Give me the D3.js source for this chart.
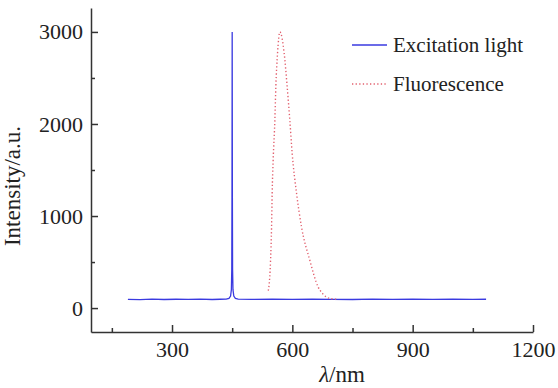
<!DOCTYPE html>
<html>
<head>
<meta charset="utf-8">
<script src="https://cdn.jsdelivr.net/npm/d3@7"></script>
<style>
  body { margin: 0; background: #fff; }
</style>
</head>
<body>
<div id="app"></div>
<script>
// excitation light (blue, solid)
const excNm = [190, 220, 250, 280, 310, 340, 370, 400, 420, 435, 442, 446, 448, 449, 449.5, 450, 450.5, 451, 452, 454, 458, 465, 500, 550, 600, 650, 700, 750, 800, 850, 900, 950, 1000, 1050, 1083];
const excVal = [95, 92, 97, 93, 96, 94, 97, 93, 96, 98, 105, 130, 200, 420, 1200, 3000, 1200, 420, 200, 130, 105, 98, 95, 96, 94, 97, 95, 93, 97, 95, 96, 94, 97, 95, 96];

// fluorescence (red, dotted)
const fluNm = [540, 541.5, 545.7, 548.2, 549.7, 552.2, 556.4, 558.9, 563.1, 569, 579.6, 587, 593.7, 599.5, 610.4, 622.9, 643.5, 664.2, 675, 685, 700, 710];
const fluVal = [190, 230, 520, 880, 1250, 1610, 2040, 2410, 2770, 3000, 2770, 2410, 2040, 1685, 1250, 880, 520, 230, 160, 120, 100, 97];

const xTicks = [300, 600, 900, 1200];
const xMinor = [150, 450, 750, 1050];
const yTicks = [0, 1000, 2000, 3000];
const yMinor = [500, 1500, 2500];

const seriesNames = ["Excitation light", "Fluorescence"];

const serif = '"Liberation Serif", "Times New Roman", serif';

const chart = () => {
  const width = 558;
  const height = 388;

  const x = d3.scaleLinear().domain([98, 1200]).range([91, 533]);
  const y = d3.scaleLinear().domain([-260, 3260]).range([332, 8]);

  const svg = d3.create("svg").attr("width", width).attr("height", height);

  // axes
  svg.append("g")
    .attr("transform", `translate(0,${y.range()[0]})`)
    .call(d3.axisBottom(x).tickValues(xTicks).tickFormat(d3.format("d"))
      .tickSizeInner(-7).tickSizeOuter(0).tickPadding(9));
  svg.append("g")
    .attr("transform", `translate(0,${y.range()[0]})`)
    .call(d3.axisBottom(x).tickValues(xMinor).tickSizeInner(-4).tickSizeOuter(0).tickFormat(""))
    .select(".domain").remove();

  svg.append("g")
    .attr("transform", `translate(${x.range()[0]},0)`)
    .call(d3.axisLeft(y).tickValues(yTicks).tickFormat(d3.format("d"))
      .tickSizeInner(-7).tickSizeOuter(0).tickPadding(8));
  svg.append("g")
    .attr("transform", `translate(${x.range()[0]},0)`)
    .call(d3.axisLeft(y).tickValues(yMinor).tickSizeInner(-4).tickSizeOuter(0).tickFormat(""))
    .select(".domain").remove();

  svg.selectAll(".domain, .tick line").attr("stroke", "#333").attr("stroke-width", 1.5);
  svg.selectAll(".tick text")
    .style("font-family", serif)
    .style("font-size", "22px")
    .attr("fill", "#222");

  // series
  const excLine = d3.line().x((d) => x(d[0])).y((d) => y(d[1]));
  const fluLine = d3.line().x((d) => x(d[0])).y((d) => y(d[1])).curve(d3.curveMonotoneX);

  svg.append("path")
    .datum(excNm.map((n, i) => [n, excVal[i]]))
    .attr("fill", "none")
    .attr("stroke", "#3a3ae0")
    .attr("stroke-width", 1.3)
    .attr("d", excLine);

  svg.append("path")
    .datum(fluNm.map((n, i) => [n, fluVal[i]]))
    .attr("fill", "none")
    .attr("stroke", "#e2606e")
    .attr("stroke-width", 1.4)
    .attr("stroke-dasharray", "1.3 2.3")
    .attr("d", fluLine);

  // legend
  const legend = svg.append("g").style("font-family", serif).style("font-size", "21px");
  legend.append("line")
    .attr("x1", 352).attr("x2", 387).attr("y1", 45).attr("y2", 45)
    .attr("stroke", "#3a3ae0").attr("stroke-width", 1.3);
  legend.append("text")
    .attr("x", 393).attr("y", 52).attr("fill", "#222")
    .text(seriesNames[0]);
  legend.append("line")
    .attr("x1", 352).attr("x2", 387).attr("y1", 84).attr("y2", 84)
    .attr("stroke", "#e2606e").attr("stroke-width", 1.4).attr("stroke-dasharray", "1.3 2.3");
  legend.append("text")
    .attr("x", 393).attr("y", 91).attr("fill", "#222")
    .text(seriesNames[1]);

  // axis titles
  svg.append("text")
    .attr("transform", "translate(20,186) rotate(-90)")
    .attr("text-anchor", "middle")
    .attr("fill", "#222")
    .style("font-family", serif)
    .style("font-size", "23px")
    .text("Intensity/a.u.");

  svg.append("text")
    .attr("x", 342).attr("y", 382)
    .attr("text-anchor", "middle")
    .attr("fill", "#222")
    .style("font-family", serif)
    .style("font-size", "23px")
    .html('<tspan font-style="italic">λ</tspan>/nm');

  return svg.node();
};

d3.select("#app").append(chart);
</script>
</body>
</html>
